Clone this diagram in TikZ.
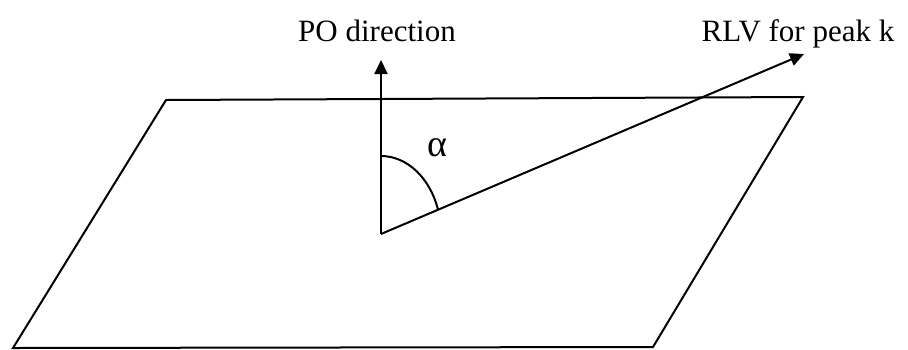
\documentclass[tikz,border=0pt]{standalone}
\usepackage{fontspec}
\setmainfont{Liberation Serif}
\usetikzlibrary{positioning, arrows.meta}

\begin{document}
\begin{tikzpicture}[
		x=0.5pt, y=-0.5pt,
		edge/.style={line width=1pt, line join=miter},
		vec/.style={line width=1pt, -{Triangle[length=7pt, width=6.5pt]}},
		lbl/.style={font=\fontsize{15.5}{18}\selectfont, inner sep=0pt},
	]
	\useasboundingbox (0,0) rectangle (908,349);

	% plane
	\coordinate (tl) at (166,100);
	\coordinate (tr) at (803,97);
	\coordinate (br) at (653,347);
	\coordinate (bl) at (13,348);
	\draw[edge] (tl) -- (tr) -- (br) -- (bl) -- cycle;

	% vectors
	\coordinate (origin) at (381,234);
	\coordinate (potip) at (381,60);
	\coordinate (rlvtip) at (804,54);
	\draw[vec] (origin) -- (potip);
	\draw[vec] (origin) -- (rlvtip);

	% angle between them
	\draw[edge] (origin) ++(0,-78) arc[start angle=-90, end angle=-18, x radius=60, y radius=78];
	\node[lbl, font=\fontsize{19}{20}\selectfont] (alpha) at (437,148) {α};

	% labels
	\node[lbl, above=9pt of potip, xshift=-2pt] (polabel) {PO direction};
	\node[lbl, above=3pt of rlvtip, xshift=-3pt] (rlvlabel) {RLV for peak k};
\end{tikzpicture}
\end{document}
